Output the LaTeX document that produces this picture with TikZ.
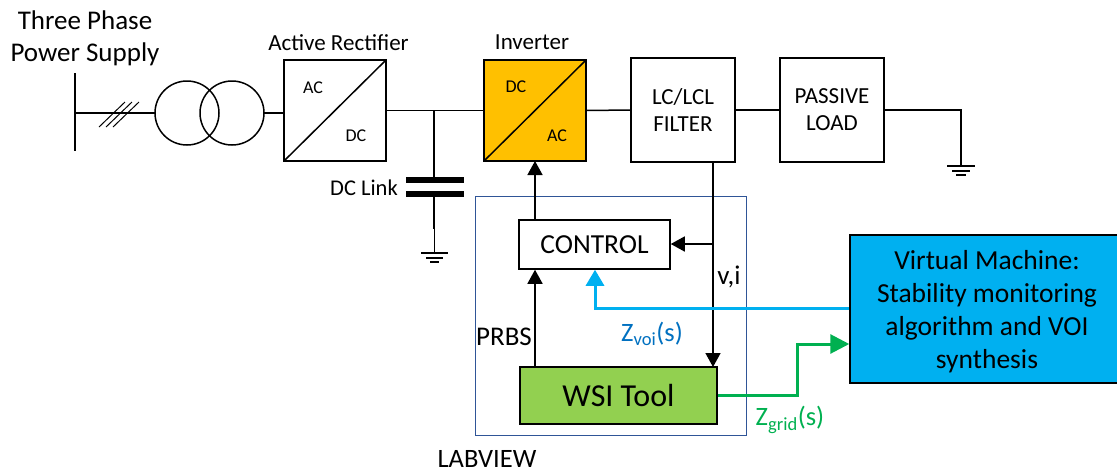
\documentclass[tikz,border=0pt]{standalone}
\usepackage{fontspec}
\setmainfont{Carlito}
\usetikzlibrary{arrows.meta,positioning,calc}
\definecolor{inverterpr}{RGB}{255, 192, 0}
\definecolor{wsipr}{RGB}{146, 208, 80}
\definecolor{vmpr}{RGB}{0, 176, 240}
\definecolor{gridpr}{RGB}{0, 176, 80}
\definecolor{voipr}{RGB}{0, 112, 192}
\definecolor{labviewpr}{RGB}{47, 85, 151}
\newcommand{\fs}[1]{\fontsize{#1}{#1}\selectfont}
\tikzset{
    wire/.style={draw, line width=1.5pt},
    block/.style={draw, line width=1.5pt, inner sep=0pt, align=center},
    converter/.style={block, minimum width=102pt, minimum height=101pt, outer sep=0pt},
    filterbox/.style={block, minimum width=104pt, minimum height=104pt, outer sep=0pt, font=\fs{23}},
    winding/.style={draw, circle, line width=1.5pt, minimum size=64pt, inner sep=0pt, outer sep=0pt},
    blocktip/.style={-{Triangle[length=14pt,width=15pt]}},
    lbl/.style={inner sep=0pt, align=center}
}
\begin{document}
\begin{tikzpicture}[x=1pt, y=-1pt]
    \useasboundingbox (0,0) rectangle (1117,474);

    \node[lbl, font=\fs{27}] (supply) at (85,38) {Three Phase\\[5pt]Power Supply};
    \node[winding] (primary) at (187,113) {};
    \node[winding] (secondary) at (232,113) {};
    \node[converter] (rectifier) at (335,110.5) {};
    \node[converter, fill=inverterpr] (inverter) at (535,110.5) {};
    \node[filterbox] (filter) at (683,110) {LC/LCL\\[4pt]FILTER};
    \node[filterbox] (load) at (832,110) {PASSIVE\\[4pt]LOAD};

    \node[lbl, font=\fs{23}] (rectlabel) at (338.5,43) {Active Rectifier};
    \node[lbl, font=\fs{23}] (invlabel) at (532,42) {Inverter};
    \node[lbl, font=\fs{18}] (recac) at (313,88) {AC};
    \node[lbl, font=\fs{18}] (recdc) at (356,136) {DC};
    \node[lbl, font=\fs{18}] (invdc) at (516,87) {DC};
    \node[lbl, font=\fs{18}] (invac) at (557,136) {AC};
    \node[lbl, font=\fs{22.5}] (linklabel) at (364,188) {DC Link};

    \node[draw, line width=1pt, draw=labviewpr, minimum width=271pt, minimum height=239pt, inner sep=0pt] (labview) at (610.5,315.5) {};
    \node[block, fill=white, minimum width=151pt, minimum height=49pt, font=\fs{27.5}] (control) at (594.5,244.5) {CONTROL};
    \node[block, fill=wsipr, minimum width=197pt, minimum height=57pt, font=\fs{32}] (wsi) at (618.5,395.5) {WSI Tool};
    \node[block, fill=vmpr, minimum width=274pt, minimum height=148pt, font=\fs{27.5}] (vm) at (987,309) {\rule{0pt}{25pt}Virtual Machine:\\[5.5pt]Stability monitoring\\[5.5pt]algorithm and VOI\\[5.5pt]synthesis};
    \node[inner sep=0pt, font=\fs{26.5}] (lvlabel) at (487,459) {LABVIEW};
    \node[lbl, font=\fs{27}] (prbs) at (504,337) {PRBS};
    \node[lbl, font=\fs{27}] (vilabel) at (729,277) {v,i};
    \node[lbl, font=\fs{26.5}, text=voipr] (voilabel) at (652,334) {Z\textsubscript{voi}(s)};
    \node[lbl, font=\fs{26.5}, text=gridpr] (gridlabel) at (790,420) {Z\textsubscript{grid}(s)};

    \coordinate (bus) at (75,113);
    \coordinate (dclink) at (434,110);
    \coordinate (platea) at (434,180);
    \coordinate (plateb) at (434,194);
    \coordinate (earth) at (434,253);
    \coordinate (loadend) at (961,166);
    \coordinate (sense) at (713,244);
    \coordinate (sensetop) at (713,162);
    \coordinate (sensebot) at (713,367);
    \coordinate (feed) at (535,220);

    \draw[wire, line width=2pt] (75,73) -- (75,151);
    \draw[wire] (bus) -- (primary.west);
    \draw[wire, line width=1pt] (99,127) -- (125,102);
    \draw[wire, line width=1pt] (106,127) -- (132,102);
    \draw[wire, line width=1pt] (113,127) -- (139,102);
    \draw[wire] (secondary.east) -- (rectifier.west |- secondary.east);
    \draw[wire] (rectifier.south west) -- (rectifier.north east);
    \draw[wire] (inverter.south west) -- (inverter.north east);
    \draw[wire] (rectifier.east) -- (inverter.west);
    \draw[wire] (inverter.east) -- (filter.west);
    \draw[wire] (filter.east) -- (load.west);
    \draw[wire] (load.east) -- (loadend |- load.east) -- (loadend);

    \draw[wire] (dclink) -- (platea);
    \draw[line width=6pt] (406,180) -- (464,180);
    \draw[line width=6pt] (406,194) -- (464,194);
    \draw[wire] (plateb) -- (434,229);
    \draw[line width=1pt] (434,229) -- (earth);
    \draw[line width=1.2pt] (421,253) -- (448,253);
    \draw[line width=1.2pt] (426,258) -- (443,258);
    \draw[line width=1.2pt] (430,262) -- (439,262);
    \draw[line width=1.2pt] (947,166) -- (975,166);
    \draw[line width=1.2pt] (952,171) -- (970,171);
    \draw[line width=1.2pt] (956,175) -- (966,175);

    \draw[wire, blocktip] (feed) -- (inverter.south -| feed);
    \draw[wire, blocktip] (wsi.north -| feed) -- (control.south -| feed);
    \draw[wire, blocktip] (sensetop) -- (sensebot);
    \draw[wire, blocktip] (sense) -- (control.east |- sense);

    \draw[line width=3pt, draw=vmpr, -{Triangle[length=16pt,width=18pt]}] (vm.west |- 0,308) -- (595,308) -- (control.south -| 595,0);
    \draw[line width=3pt, draw=gridpr, -{Triangle[length=19pt,width=19pt]}] (wsi.east) -- (797,395.5) -- (797,344) -- (vm.west |- 0,344);
\end{tikzpicture}
\end{document}
